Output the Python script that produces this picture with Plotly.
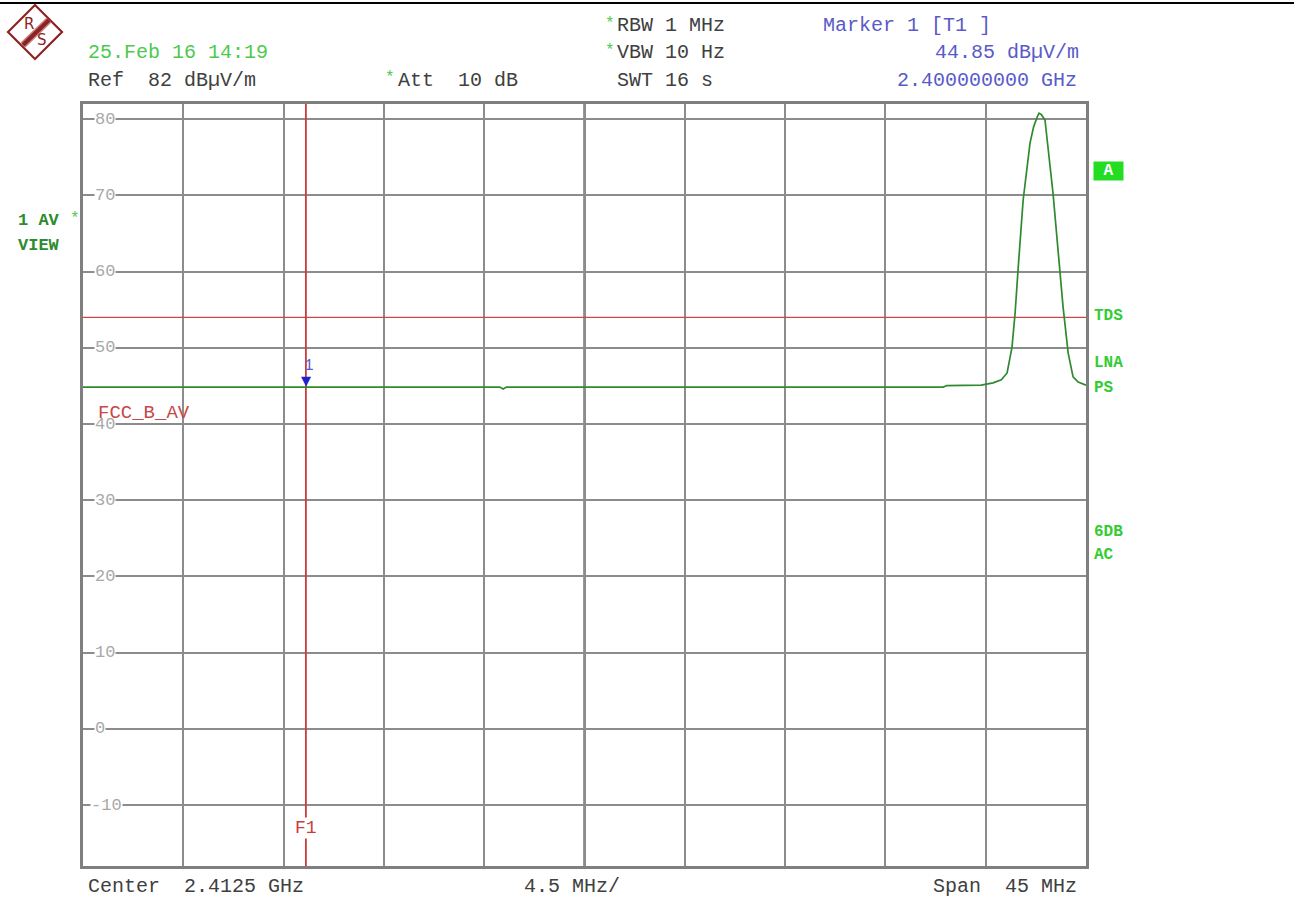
import plotly.graph_objects as go

# ---------------- data ----------------
freq_mhz = [2390.0, 2408.7, 2408.85, 2409.0, 2428.6, 2428.75, 2430.3, 2430.83, 2431.2,
            2431.46, 2431.68, 2431.82, 2431.95, 2432.18, 2432.49, 2432.65, 2432.81,
            2432.89, 2433.0, 2433.16, 2433.52, 2433.75, 2433.97, 2434.2, 2434.42,
            2434.65, 2434.87, 2435.0]
level_dbuv = [44.85, 44.85, 44.6, 44.85, 44.85, 45.05, 45.1, 45.4, 45.8,
              46.7, 50.1, 54.6, 60.2, 69.4, 76.9, 79.0, 80.3,
              80.8, 80.6, 79.9, 70.3, 62.8, 55.4, 49.3, 46.2,
              45.5, 45.3, 45.1]

x_range = [2390.0, 2435.0]          # Center 2.4125 GHz, Span 45 MHz
y_range = [-18.0, 82.0]             # Ref 82 dBuV/m, 10 dB/div
x_grid = [2390 + 4.5 * i for i in range(11)]
y_ticks = [80, 70, 60, 50, 40, 30, 20, 10, 0, -10]
limit_level = 54.0                  # FCC_B_AV
f1_freq = 2400.0
marker_freq = 2400.0
marker_level = 44.85

W, H = 1294, 901
L, R, T, B = 83, 1086, 104, 866


def px(x):
    return (x - L) / (R - L)


def py(y):
    return (B - y) / (B - T)


MONO = "Liberation Mono, Courier New, monospace"
GREEN_T = "#4fc84f"
GRAY_T = "#404040"
BLUE_T = "#5a5ac8"
RED = "#cc3a3a"
GRID = "#8c8c8c"

fig = go.Figure()

# limit line
fig.add_trace(go.Scatter(x=x_range, y=[limit_level, limit_level], mode="lines",
                         line=dict(color="#c84848", width=1.3), hoverinfo="skip"))
# F1 line
fig.add_trace(go.Scatter(x=[f1_freq, f1_freq], y=y_range, mode="lines",
                         line=dict(color=RED, width=1.8), hoverinfo="skip"))
# trace
fig.add_trace(go.Scatter(x=freq_mhz, y=level_dbuv, mode="lines",
                         line=dict(color="#2f8a2f", width=1.7), hoverinfo="skip"))

annotations = []


def txt(text, x, y, color, size=20, anchor="left", bold=False, bg=None, xref="paper", yref="paper", **kw):
    d = dict(text=("<b>%s</b>" % text) if bold else text, x=x, y=y, xref=xref, yref=yref,
             xanchor=anchor, yanchor="middle", showarrow=False,
             font=dict(family=MONO, size=size, color=color))
    if bg:
        d["bgcolor"] = bg
        d["borderpad"] = 0
    d.update(kw)
    annotations.append(d)


# header
txt("25.Feb 16 14:19", px(86), py(53), GREEN_T)
txt("Ref  82 dBµV/m", px(86), py(81), GRAY_T)
txt("*", px(383), py(78), GREEN_T, size=16)
txt("Att  10 dB", px(396), py(81), GRAY_T)
txt("*", px(603), py(24), GREEN_T, size=16)
txt("RBW 1 MHz", px(615), py(26), GRAY_T)
txt("*", px(603), py(51), GREEN_T, size=16)
txt("VBW 10 Hz", px(615), py(53), GRAY_T)
txt("SWT 16 s", px(615), py(81), GRAY_T)
txt("Marker 1 [T1 ]", px(821), py(26), BLUE_T)
txt("44.85 dBµV/m", px(1081), py(53), BLUE_T, anchor="right")
txt("2.400000000 GHz", px(1079), py(81), BLUE_T, anchor="right")

# left labels
txt("1 AV", px(16), py(221), "#2e8b2e", size=17, bold=True)
txt("*", px(68), py(219), GREEN_T, size=16)
txt("VIEW", px(16), py(245), "#2e8b2e", size=17, bold=True)

# right labels
txt(" A ", px(1108), py(171), "white", size=16, anchor="center", bold=True, bg="#22dd22")
for label, yy in [("TDS", 316), ("LNA", 363), ("PS", 388), ("6DB", 532), ("AC", 555)]:
    txt(label, px(1092), py(yy), "#33cc33", size=16, bold=True)

# bottom
txt("Center  2.4125 GHz", px(86), py(886), GRAY_T)
txt("4.5 MHz/", px(572), py(886), GRAY_T, anchor="center")
txt("Span  45 MHz", px(1079), py(886), GRAY_T, anchor="right")

# y tick labels inside the plot
for v in y_ticks:
    txt(str(v), 0, v, "#a8a8a8", size=17, yref="y", bg="white",
        xshift=(11 if v >= 0 else 7))

# limit name, marker, F1 label
txt("FCC_B_AV", px(96), py(413), "#c84848", size=19)
annotations.append(dict(text="▼", x=marker_freq, y=marker_level, xref="x", yref="y",
                        xanchor="center", yanchor="bottom", showarrow=False, yshift=-3,
                        font=dict(family="DejaVu Sans", size=13, color="#2020d0")))
annotations.append(dict(text="1", x=marker_freq, y=marker_level, xref="x", yref="y",
                        xanchor="center", yanchor="bottom", showarrow=False, yshift=10, xshift=3,
                        font=dict(family=MONO, size=16, color=BLUE_T)))
txt("F1", f1_freq, py(828), RED, size=18, anchor="center", xref="x", bg="white")

shapes = []
# thicker centre grid line
shapes.append(dict(type="line", xref="x", yref="paper", x0=x_grid[5], x1=x_grid[5], y0=0, y1=1,
                   line=dict(color="#7a7a7a", width=2.5), layer="below"))
# top frame line
shapes.append(dict(type="line", xref="paper", yref="paper", x0=px(0), x1=px(W), y0=py(3), y1=py(3),
                   line=dict(color="black", width=2)))
# R&S logo
cx, cy, r = 35, 32, 27
diamond = "M %f %f L %f %f L %f %f L %f %f Z" % (
    px(cx - r), py(cy), px(cx), py(cy - r), px(cx + r), py(cy), px(cx), py(cy + r))
shapes.append(dict(type="path", xref="paper", yref="paper", path=diamond,
                   line=dict(color="#8b2323", width=2.2), fillcolor="white"))
shapes.append(dict(type="line", xref="paper", yref="paper", x0=px(cx - 12), y0=py(cy + 13),
                   x1=px(cx + 14), y1=py(cy - 12), line=dict(color="#c88080", width=7)))
shapes.append(dict(type="line", xref="paper", yref="paper", x0=px(cx - 12), y0=py(cy + 13),
                   x1=px(cx + 14), y1=py(cy - 12), line=dict(color="#8b2323", width=4)))
annotations.append(dict(text="R", x=px(cx - 6), y=py(cy - 8), xref="paper", yref="paper",
                        showarrow=False, xanchor="center", yanchor="middle",
                        font=dict(family="DejaVu Sans", size=15, color="#8b2323")))
annotations.append(dict(text="S", x=px(cx + 7), y=py(cy + 8), xref="paper", yref="paper",
                        showarrow=False, xanchor="center", yanchor="middle",
                        font=dict(family="DejaVu Sans", size=15, color="#8b2323")))

fig.update_layout(
    width=W, height=H,
    margin=dict(l=L, r=W - R, t=T, b=H - B, pad=0),
    paper_bgcolor="white", plot_bgcolor="white",
    showlegend=False,
    annotations=annotations, shapes=shapes,
    xaxis=dict(range=x_range, tickvals=x_grid, showticklabels=False, ticks="",
               showgrid=True, gridcolor=GRID, gridwidth=1.5, zeroline=False,
               showline=True, mirror=True, linecolor="#7f7f7f", linewidth=3, fixedrange=True),
    yaxis=dict(range=y_range, tickvals=y_ticks, showticklabels=False, ticks="",
               showgrid=True, gridcolor=GRID, gridwidth=1.5, zeroline=False,
               showline=True, mirror=True, linecolor="#7f7f7f", linewidth=3, fixedrange=True),
)

fig.write_html("out.html", config={"displayModeBar": False},
               post_script="document.body.style.margin='0';document.body.style.overflow='hidden';")
